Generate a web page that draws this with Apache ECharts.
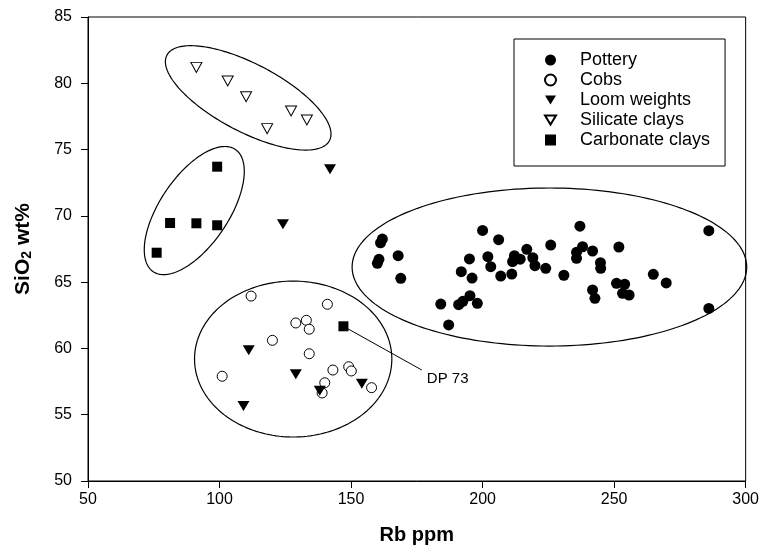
<!DOCTYPE html>
<html>
<head>
<meta charset="utf-8">
<title>Rb vs SiO2</title>
<script src="https://cdn.jsdelivr.net/npm/echarts@6/dist/echarts.min.js"></script>
<style>
  html, body { margin: 0; padding: 0; background: #fff; }
  #chart { width: 762px; height: 553px; }
</style>
</head>
<body>
<div id="chart"></div>
<script>
// Rb (ppm) vs SiO2 (wt%) for each sample group
const pottery = [
  [161.9, 68.25], [161.2, 67.97], [160.6, 66.72], [160.0, 66.42], [167.9, 67.0], [168.9, 65.29],
  [200.0, 68.9], [206.1, 68.2], [195.0, 66.75], [202.0, 66.92], [203.1, 66.17], [191.9, 65.79],
  [196.0, 65.31], [206.9, 65.46], [211.1, 65.61], [212.1, 67.0], [214.3, 66.73], [211.4, 66.55],
  [216.8, 67.48], [219.1, 66.84], [219.9, 66.24], [224.0, 66.04], [225.9, 67.8], [230.9, 65.52],
  [237.0, 69.22], [238.0, 67.67], [235.7, 67.25], [235.7, 66.8], [241.8, 67.35], [244.8, 66.47],
  [244.9, 66.04], [251.8, 67.65], [241.8, 64.41], [242.7, 63.78], [250.9, 64.91], [254.0, 64.84],
  [253.2, 64.16], [255.7, 64.03], [264.9, 65.59], [269.8, 64.94], [286.0, 68.88], [286.0, 63.02],
  [184.1, 63.35], [187.1, 61.77], [190.9, 63.3], [192.5, 63.55], [195.2, 63.98], [198.0, 63.4]
];
const cobs = [
  [112.0, 63.95], [141.0, 63.33], [129.0, 61.92], [133.0, 62.12], [134.1, 61.45], [120.1, 60.61],
  [134.1, 59.6], [101.0, 57.9], [143.1, 58.37], [149.1, 58.62], [150.1, 58.3], [140.0, 57.41],
  [139.0, 56.64], [157.8, 57.04]
];
const loomWeights = [
  [111.1, 59.86], [129.0, 58.05], [109.1, 55.66], [138.1, 56.81], [154.1, 57.33],
  [142.0, 73.51], [124.1, 69.36]
];
const silicateClays = [
  [91.2, 81.2], [103.1, 80.17], [110.1, 78.99], [127.2, 77.91], [133.2, 77.23], [118.1, 76.58]
];
const carbonateClays = [
  [99.1, 73.71], [81.2, 69.46], [91.2, 69.44], [99.1, 69.29], [76.1, 67.22], [147.1, 61.67]
];

// Group outlines: centre, end of the major semi-axis, end of the minor semi-axis (data units)
const groupOutlines = [
  [225.4, 66.14, 300.4, 66.14, 225.4, 72.1],   // pottery
  [128.0, 59.2, 165.5, 59.2, 128.0, 65.08],    // cobs + loom weights
  [110.9, 78.9, 141.8, 75.68, 104.94, 76.63],  // silicate clays
  [90.4, 70.4, 106.0, 75.01, 100.9, 68.85]     // carbonate clays
];

// Callout from sample DP 73 to its label
const dp73Callout = [[147.1, 61.67], [176.9, 58.37]];
const dp73Label = 'DP 73';

const xTicks = { min: 50, max: 300, step: 50 };
const yTicks = { min: 50, max: 85, step: 5 };

const FONT = '"Liberation Sans", Arial, Helvetica, sans-serif';
const downTriangle = 'path://M0,0 L12,0 L6,10 Z';

const chart = echarts.init(document.getElementById('chart'), null, { renderer: 'canvas' });

function renderOutline(params, api) {
  const c = api.coord([api.value(0), api.value(1)]);
  const m = api.coord([api.value(2), api.value(3)]);
  const n = api.coord([api.value(4), api.value(5)]);
  const a = Math.hypot(m[0] - c[0], m[1] - c[1]);
  const b = Math.hypot(n[0] - c[0], n[1] - c[1]);
  const ang = Math.atan2(m[1] - c[1], m[0] - c[0]);
  const ca = Math.cos(ang), sa = Math.sin(ang);
  const pts = [];
  for (let i = 0; i < 180; i++) {
    const t = (i / 180) * Math.PI * 2;
    const u = a * Math.cos(t), v = b * Math.sin(t);
    pts.push([c[0] + u * ca - v * sa, c[1] + u * sa + v * ca]);
  }
  return {
    type: 'polygon',
    shape: { points: pts },
    style: { fill: 'none', stroke: '#000', lineWidth: 1.2 },
    silent: true
  };
}

const axisCommon = {
  axisLine: { show: true, lineStyle: { color: '#000', width: 1 } },
  axisTick: { show: true, inside: false, length: 7, lineStyle: { color: '#000', width: 1 } },
  splitLine: { show: false }
};

chart.setOption({
  animation: false,
  backgroundColor: '#fff',
  textStyle: { fontFamily: FONT },
  grid: {
    left: 88, right: 14, top: 17, bottom: 72,
    show: true, borderColor: '#000', borderWidth: 1, backgroundColor: 'transparent'
  },
  legend: {
    orient: 'vertical',
    left: 514, top: 39,
    padding: [11, 15, 16, 30],
    itemWidth: 11, itemHeight: 11, itemGap: 0,
    backgroundColor: '#fff',
    borderColor: '#000', borderWidth: 1,
    textStyle: { fontFamily: FONT, fontSize: 18, color: '#000', lineHeight: 20, padding: [0, 0, 0, 19] },
    data: ['Pottery', 'Cobs', 'Loom weights', 'Silicate clays', 'Carbonate clays']
  },
  xAxis: Object.assign({}, axisCommon, {
    type: 'value',
    min: xTicks.min, max: xTicks.max, interval: xTicks.step,
    name: 'Rb ppm',
    nameLocation: 'middle',
    nameGap: 44,
    nameTextStyle: { fontFamily: FONT, fontWeight: 'bold', fontSize: 20, color: '#000' },
    axisLabel: { fontFamily: FONT, fontSize: 16, color: '#000', margin: 11 }
  }),
  yAxis: Object.assign({}, axisCommon, {
    type: 'value',
    min: yTicks.min, max: yTicks.max, interval: yTicks.step,
    name: '{a|SiO}{s|2}{a| wt%}',
    nameLocation: 'middle',
    nameRotate: 90,
    nameGap: 54,
    nameTextStyle: {
      fontFamily: FONT, fontWeight: 'bold', fontSize: 21, color: '#000',
      rich: {
        a: { fontFamily: FONT, fontWeight: 'bold', fontSize: 21, color: '#000', lineHeight: 25, verticalAlign: 'bottom' },
        s: { fontFamily: FONT, fontWeight: 'bold', fontSize: 14, color: '#000', lineHeight: 14, verticalAlign: 'bottom' }
      }
    },
    axisLabel: { fontFamily: FONT, fontSize: 16, color: '#000', margin: 16 }
  }),
  series: [
    {
      name: 'outlines',
      type: 'custom',
      renderItem: renderOutline,
      data: groupOutlines,
      encode: { x: [0, 2, 4], y: [1, 3, 5] },
      silent: true,
      z: 1
    },
    {
      name: 'dp73',
      type: 'line',
      data: dp73Callout,
      symbol: 'none',
      lineStyle: { color: '#000', width: 1 },
      silent: true,
      z: 2,
      endLabel: {
        show: true,
        formatter: dp73Label,
        fontFamily: FONT, fontSize: 15, color: '#000',
        offset: [-3, 9]
      }
    },
    {
      name: 'Pottery', type: 'scatter', data: pottery,
      symbol: 'circle', symbolSize: 11,
      itemStyle: { color: '#000', opacity: 1 }, z: 3
    },
    {
      name: 'Cobs', type: 'scatter', data: cobs,
      symbol: 'circle', symbolSize: 10,
      itemStyle: { color: '#fff', borderColor: '#000', borderWidth: 1, opacity: 1 }, z: 3
    },
    {
      name: 'Loom weights', type: 'scatter', data: loomWeights,
      symbol: downTriangle, symbolSize: [12, 10],
      itemStyle: { color: '#000', opacity: 1 }, z: 4
    },
    {
      name: 'Silicate clays', type: 'scatter', data: silicateClays,
      symbol: downTriangle, symbolSize: [11, 10],
      itemStyle: { color: '#fff', borderColor: '#000', borderWidth: 1, opacity: 1 }, z: 4
    },
    {
      name: 'Carbonate clays', type: 'scatter', data: carbonateClays,
      symbol: 'rect', symbolSize: 10,
      itemStyle: { color: '#000', opacity: 1 }, z: 4
    }
  ]
});
</script>
</body>
</html>
